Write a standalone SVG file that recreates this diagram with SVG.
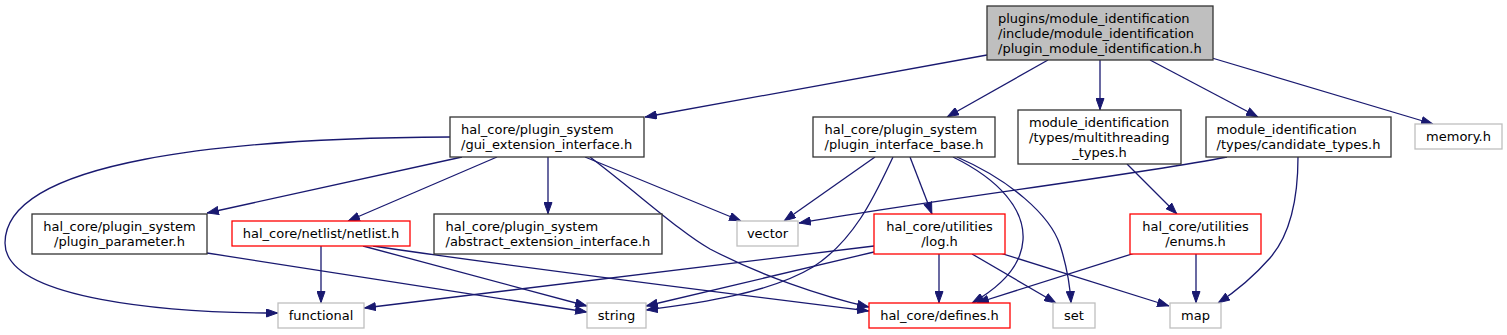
<svg xmlns="http://www.w3.org/2000/svg" width="1507" height="335" viewBox="0 0 1507 335">
<style>
text{font-family:"DejaVu Sans",sans-serif;font-size:13px;fill:#000}
.c{text-anchor:middle}
rect{stroke-width:1.3}
.n rect{fill:#fff;stroke:#333}
.g rect{fill:#fff;stroke:#bfbfbf}
.r rect{fill:#fff;stroke:#ff0000}
#edges path{fill:none;stroke:#191970;stroke-width:1.3;marker-end:url(#ah)}
</style>
<defs>
<marker id="ah" viewBox="0 0 12 9" refX="12" refY="4.5" markerWidth="12" markerHeight="9" markerUnits="userSpaceOnUse" orient="auto">
<path d="M0.5,0.5 L11.5,4.5 L0.5,8.5 Z" fill="#191970" stroke="#191970" stroke-width="1"/>
</marker>
</defs>
<rect width="1507" height="335" fill="#fff" stroke="none"/>
<g id="edges">
<path d="M987,55 L645,117"/>
<path d="M1048,60 L947,117"/>
<path d="M1100,60 L1100,110"/>
<path d="M1150,60 L1258,117"/>
<path d="M1212,58 L1433,124"/>
<path d="M450,137 C 230,138 5,160 5,243 C 5,300 170,313 278,313"/>
<path d="M462,157 L207,213"/>
<path d="M497,157 L348,221"/>
<path d="M548,157 L548,214"/>
<path d="M585,157 L741,221"/>
<path d="M590,157 C 640,195 680,232 710,249 C 760,275 820,296 869,307"/>
<path d="M875,157 L784,221"/>
<path d="M893,157 C 875,195 855,240 813,267 C 770,293 700,303 646,310"/>
<path d="M910,157 L932,214"/>
<path d="M953,157 C 1000,180 1025,210 1023,240 C 1021,270 995,290 972,303"/>
<path d="M957,157 C 1010,180 1050,215 1060,245 C 1068,270 1070,285 1071,303"/>
<path d="M1227,157 C 1130,176 930,200 799,223"/>
<path d="M1127,164 L1177,214"/>
<path d="M1298,157 C 1298,200 1290,235 1270,258 C 1255,275 1238,290 1218,303"/>
<path d="M207,253 L587,312"/>
<path d="M321,246 L321,303"/>
<path d="M363,246 L587,306"/>
<path d="M373,246 C 500,265 700,290 869,311"/>
<path d="M874,246 L364,308"/>
<path d="M874,252 L646,306"/>
<path d="M939,254 L939,303"/>
<path d="M972,254 L1056,303"/>
<path d="M1000,253 L1169,306"/>
<path d="M1135,253 L977,303"/>
<path d="M1196,254 L1196,303"/>
</g>
<g id="root" class="n"><rect x="987" y="6" width="226" height="54" style="fill:#bfbfbf"/>
<text x="998" y="22.5">plugins/module_identification</text>
<text x="998" y="37.5">/include/module_identification</text>
<text x="998" y="52.5">/plugin_module_identification.h</text></g>
<g id="gui" class="n"><rect x="450" y="117" width="194" height="40"/>
<text x="461" y="133.5">hal_core/plugin_system</text>
<text x="461" y="148.5">/gui_extension_interface.h</text></g>
<g id="pib" class="n"><rect x="813" y="117" width="182" height="40"/>
<text x="824.5" y="133.5">hal_core/plugin_system</text>
<text x="824.5" y="148.5">/plugin_interface_base.h</text></g>
<g id="multithreading" class="n"><rect x="1018" y="110" width="163" height="54"/>
<text x="1029" y="126.5">module_identification</text>
<text x="1029" y="141.5">/types/multithreading</text>
<text x="1099.5" y="156.5" class="c">_types.h</text></g>
<g id="candidate" class="n"><rect x="1206" y="117" width="185" height="40"/>
<text x="1216.6" y="133.5">module_identification</text>
<text x="1216.6" y="148.5">/types/candidate_types.h</text></g>
<g id="memory" class="g"><rect x="1415" y="124" width="87" height="25"/>
<text x="1458.5" y="140.5" class="c">memory.h</text></g>
<g id="plugin_parameter" class="n"><rect x="32" y="214" width="175" height="40"/>
<text x="119.5" y="230.5" class="c">hal_core/plugin_system</text>
<text x="119.5" y="245.5" class="c">/plugin_parameter.h</text></g>
<g id="netlist" class="r"><rect x="232" y="221" width="178" height="25"/>
<text x="321" y="237.5" class="c">hal_core/netlist/netlist.h</text></g>
<g id="abstract" class="n"><rect x="434" y="214" width="228" height="40"/>
<text x="445.5" y="230.5">hal_core/plugin_system</text>
<text x="445.5" y="245.5">/abstract_extension_interface.h</text></g>
<g id="vector" class="g"><rect x="737" y="221" width="61" height="25"/>
<text x="767.5" y="237.5" class="c">vector</text></g>
<g id="log" class="r"><rect x="874" y="214" width="131" height="40"/>
<text x="939.5" y="230.5" class="c">hal_core/utilities</text>
<text x="939.5" y="245.5" class="c">/log.h</text></g>
<g id="enums" class="r"><rect x="1130" y="214" width="131" height="40"/>
<text x="1195.5" y="230.5" class="c">hal_core/utilities</text>
<text x="1195.5" y="245.5" class="c">/enums.h</text></g>
<g id="functional" class="g"><rect x="278" y="303" width="86" height="25"/>
<text x="321" y="319.5" class="c">functional</text></g>
<g id="string" class="g"><rect x="587" y="303" width="59" height="25"/>
<text x="616.5" y="319.5" class="c">string</text></g>
<g id="defines" class="r"><rect x="869" y="303" width="141" height="25"/>
<text x="939.5" y="319.5" class="c">hal_core/defines.h</text></g>
<g id="set" class="g"><rect x="1053" y="303" width="42" height="25"/>
<text x="1074" y="319.5" class="c">set</text></g>
<g id="map" class="g"><rect x="1170" y="303" width="51" height="25"/>
<text x="1195.5" y="319.5" class="c">map</text></g>
</svg>
